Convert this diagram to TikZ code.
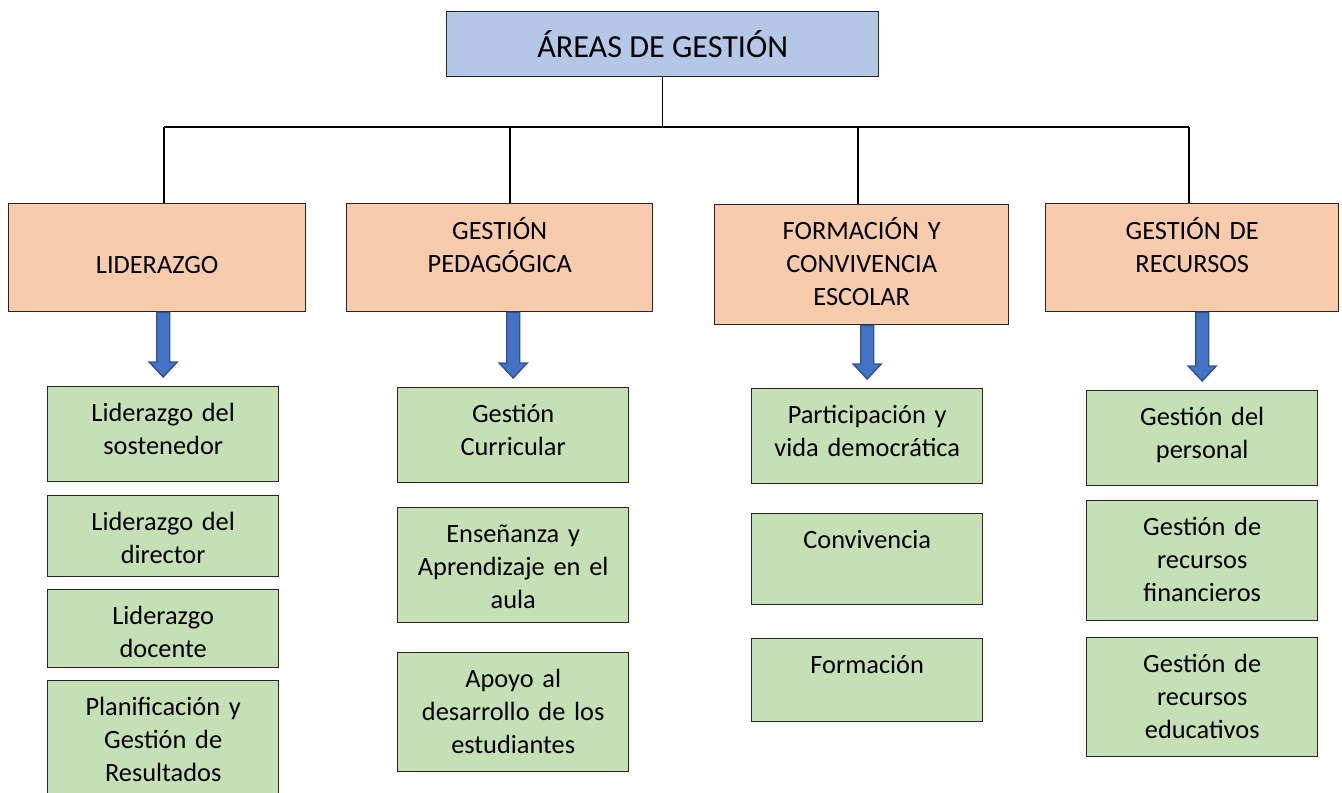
\documentclass[tikz,border=0pt]{standalone}
\usepackage{fontspec}
\setmainfont{Carlito}
\usetikzlibrary{calc}

\definecolor{azul}{HTML}{B4C7E7}
\definecolor{naranja}{HTML}{F8CBAD}
\definecolor{verde}{HTML}{C5E0B4}
\definecolor{flechaazul}{HTML}{4472C4}
\definecolor{flechaborde}{HTML}{2F528F}

\begin{document}
\begin{tikzpicture}[
	caja/.style={draw=black!85, line width=0.8pt, anchor=north west, inner sep=0pt, align=center, font=\fontsize{15}{18.8}\selectfont},
	area/.style={caja, fill=naranja, text width=5.6cm, text height=0.72cm, text depth=#1cm-0.72cm},
	linea/.style={caja, fill=verde, minimum width=4.62cm, text width=4.5cm, text height=0.70cm, text depth=#1cm-0.70cm},
	flecha/.style={fill=flechaazul, draw=flechaborde, line width=0.8pt, line join=miter}
]
\useasboundingbox (0,0) rectangle (26.84,-15.84);

\node[caja, fill=azul, minimum width=8.64cm, minimum height=1.30cm, font=\fontsize{18.3}{22}\selectfont] (areas) at (8.92,-0.22) {ÁREAS DE GESTIÓN};

% areas
\node[area=2.16, minimum width=5.94cm, text height=1.40cm, text depth=0.76cm] (lid) at (0.16,-4.06) {LIDERAZGO};
\node[area=2.16, minimum width=6.12cm] (ped) at (6.92,-4.06) {GESTIÓN\\ PEDAGÓGICA};
\node[area=2.40, minimum width=5.88cm, text height=0.70cm, text depth=1.70cm] (for) at (14.28,-4.08) {FORMACIÓN Y\\ CONVIVENCIA\\ ESCOLAR};
\node[area=2.16, minimum width=5.86cm] (rec) at (20.90,-4.06) {GESTIÓN DE\\ RECURSOS};

% dimensiones
\node[linea=1.90] (v11) at (0.94,-7.72) {Liderazgo del\\ sostenedor};
\node[linea=1.62] (v12) at (0.94,-9.90) {Liderazgo del\\ director};
\node[linea=1.56] (v13) at (0.94,-11.78) {Liderazgo\\ docente};
\node[linea=2.60] (v14) at (0.94,-13.60) {Planificación y\\ Gestión de\\ Resultados};

\node[linea=1.90] (v21) at (7.94,-7.74) {Gestión\\ Curricular};
\node[linea=2.30] (v22) at (7.94,-10.14) {Enseñanza y\\ Aprendizaje en el\\ aula};
\node[linea=2.38] (v23) at (7.94,-13.04) {Apoyo al\\ desarrollo de los\\ estudiantes};

\node[linea=1.90] (v31) at (15.02,-7.76) {Participación y\\ vida democrática};
\node[linea=1.82] (v32) at (15.02,-10.26) {Convivencia};
\node[linea=1.66] (v33) at (15.02,-12.76) {Formación};

\node[linea=1.90] (v41) at (21.72,-7.80) {Gestión del\\ personal};
\node[linea=2.40] (v42) at (21.72,-10.00) {Gestión de\\ recursos\\ financieros};
\node[linea=2.38] (v43) at (21.72,-12.74) {Gestión de\\ recursos\\ educativos};

\coordinate (r1) at (3.28,-2.54);
\coordinate (r2) at (10.20,-2.54);
\coordinate (r3) at (17.16,-2.54);
\coordinate (r4) at (23.78,-2.54);

\begin{scope}[every path/.style={draw, line width=0.6pt}]
	\draw (areas.south) -- (areas.south |- r1);
	\draw (r1) -- (r4);
	\draw (r1) -- (r1 |- lid.north);
	\draw (r2) -- (r2 |- ped.north);
	\draw (r3) -- (r3 |- for.north);
	\draw (r4) -- (r4 |- rec.north);
\end{scope}

\foreach \a/\b in {lid/v11, ped/v21, for/v31, rec/v41}
	\draw[flecha] let \p1=(\b.north |- \a.south), \p2=($(\b.north)+(0,0.18)$) in
		(\x1-0.13cm,\y1) -- (\x1+0.13cm,\y1) -- (\x1+0.13cm,\y2+0.3cm) -- (\x1+0.28cm,\y2+0.3cm)
		-- (\x1,\y2) -- (\x1-0.28cm,\y2+0.3cm) -- (\x1-0.13cm,\y2+0.3cm) -- cycle;

\end{tikzpicture}
\end{document}
